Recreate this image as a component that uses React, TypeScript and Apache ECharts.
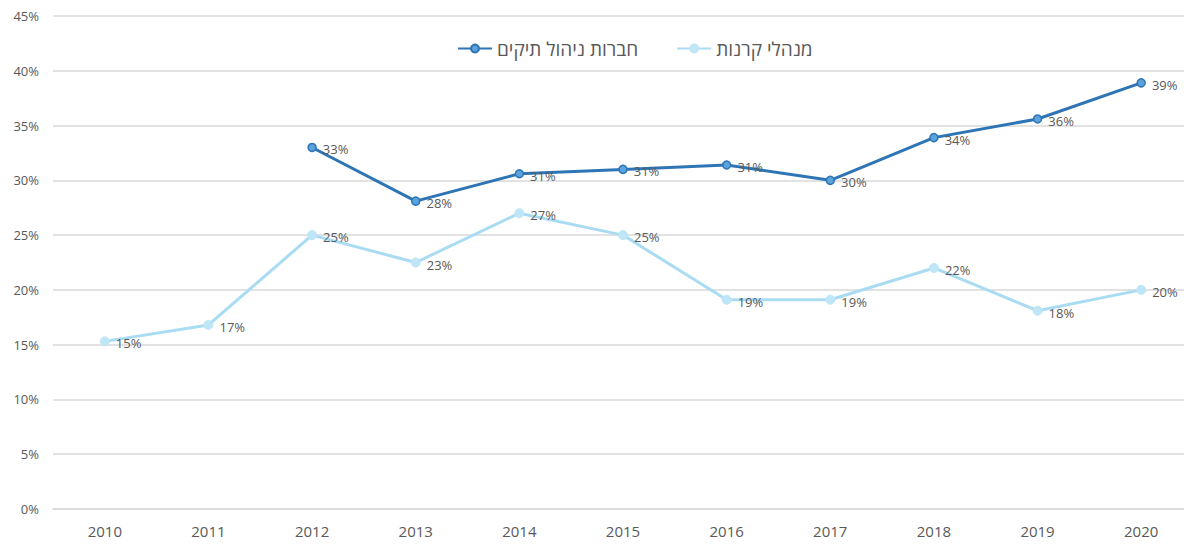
import React, { useEffect, useRef } from "react";
import * as echarts from "echarts";

const years = ["2010", "2011", "2012", "2013", "2014", "2015", "2016", "2017", "2018", "2019", "2020"];
const portfolioManagers: (number | null)[] = [null, null, 33.0, 28.1, 30.6, 31.0, 31.4, 30.0, 33.9, 35.6, 38.9];
const fundManagers: number[] = [15.3, 16.8, 25.0, 22.5, 27.0, 25.0, 19.1, 19.1, 22.0, 18.1, 20.0];
const seriesNames = ["חברות ניהול תיקים", "מנהלי קרנות"];

export default function App() {
  const ref = useRef<HTMLDivElement>(null);
  useEffect(() => {
    if (!ref.current) return;
    const chart = echarts.init(ref.current, null, { renderer: "svg" });
    const font = "'Open Sans', 'Noto Sans', sans-serif";
    const label = {
      show: true,
      position: "right" as const,
      distance: 6,
      offset: [0, 2],
      color: "#595959",
      fontSize: 13,
      fontFamily: font,
      formatter: (p: any) => Math.round(p.value) + "%",
    };
    chart.setOption({
      animation: false,
      textStyle: { fontFamily: font },
      legend: {
        top: 34,
        left: 452,
        itemWidth: 34,
        itemHeight: 10,
        itemGap: 38,
        textStyle: { fontSize: 19, color: "#595959", fontFamily: font },
        data: seriesNames,
      },
      grid: { left: 53, right: 0, top: 16, bottom: 41, containLabel: false },
      xAxis: {
        type: "category",
        data: years,
        boundaryGap: true,
        axisLine: { show: true, lineStyle: { color: "#d9d9d9", width: 1.5 } },
        axisTick: { show: false },
        axisLabel: { color: "#595959", fontSize: 15, margin: 14, fontFamily: font },
      },
      yAxis: {
        type: "value",
        min: 0,
        max: 45,
        interval: 5,
        axisLine: { show: false },
        axisTick: { show: false },
        splitLine: { lineStyle: { color: "#d9d9d9", width: 1.5 } },
        axisLabel: {
          color: "#595959",
          fontSize: 13,
          margin: 14,
          fontFamily: font,
          formatter: (v: number) => v + "%",
        },
      },
      series: [
        {
          name: seriesNames[0],
          type: "line",
          data: portfolioManagers,
          connectNulls: false,
          symbol: "circle",
          symbolSize: 8,
          lineStyle: { color: "#2E75B6", width: 3 },
          itemStyle: { color: "#5BA3DC", borderColor: "#2E75B6", borderWidth: 1.5 },
          label,
          z: 3,
        },
        {
          name: seriesNames[1],
          type: "line",
          data: fundManagers,
          symbol: "circle",
          symbolSize: 9,
          lineStyle: { color: "#A9DCF3", width: 3 },
          itemStyle: { color: "#BEE6F7", borderColor: "#BEE6F7", borderWidth: 1 },
          label,
          z: 2,
        },
      ],
    });
    return () => chart.dispose();
  }, []);
  return (
    <div
      ref={ref}
      style={{ position: "fixed", left: 0, top: 0, width: 1193, height: 550, background: "#fff" }}
    />
  );
}
